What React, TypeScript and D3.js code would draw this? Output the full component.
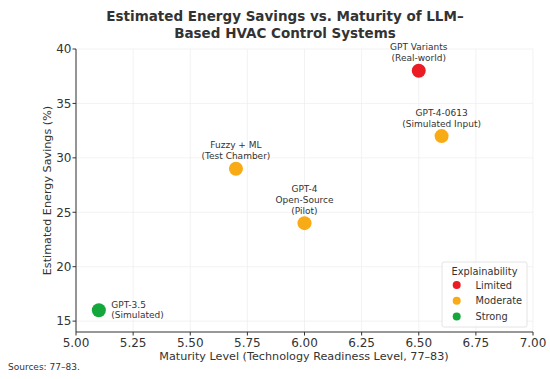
import React from "react";
import * as d3 from "d3";

const names = ["GPT Variants\n(Real-world)", "GPT-4-0613\n(Simulated Input)", "Fuzzy + ML\n(Test Chamber)", "GPT-4\nOpen-Source\n(Pilot)", "GPT-3.5\n(Simulated)"];
const maturity = [6.5, 6.6, 5.7, 6.0, 5.1];
const savings = [38, 32, 29, 24, 16];
const explain = ["Limited", "Moderate", "Moderate", "Moderate", "Strong"];
const levels = ["Limited", "Moderate", "Strong"];
const levelColors = ["#ec1c24", "#f8ab14", "#14a83c"];
const xTicks = [5.0, 5.25, 5.5, 5.75, 6.0, 6.25, 6.5, 6.75, 7.0];
const yTicks = [15, 20, 25, 30, 35, 40];

const W = 550, H = 379;
const font = "DejaVu Sans, sans-serif";
const ink = "#333";

export default function App() {
  const x = d3.scaleLinear().domain([5, 7]).range([76, 533]);
  const y = d3.scaleLinear().domain([14, 40]).range([332, 49]);
  const color = d3.scaleOrdinal<string, string>().domain(levels).range(levelColors);

  return (
    <svg width={W} height={H} style={{ position: "absolute", left: 0, top: 0, background: "#fff" }} fontFamily={font}>
      <text x={285} y={21} textAnchor="middle" fontSize={13.5} fontWeight="bold" fill={ink}>Estimated Energy Savings vs. Maturity of LLM–</text>
      <text x={285} y={38} textAnchor="middle" fontSize={13.5} fontWeight="bold" fill={ink}>Based HVAC Control Systems</text>

      {/* grid */}
      {xTicks.map((t) => (
        <line key={"gx" + t} x1={x(t)} x2={x(t)} y1={y(40)} y2={y(14)} stroke="#ececec" strokeWidth={0.7} />
      ))}
      {yTicks.map((t) => (
        <line key={"gy" + t} x1={x(5)} x2={x(7)} y1={y(t)} y2={y(t)} stroke="#ececec" strokeWidth={0.7} />
      ))}

      {/* axes */}
      <line x1={x(5)} x2={x(5)} y1={y(40)} y2={y(14)} stroke={ink} strokeWidth={1} />
      <line x1={x(5)} x2={x(7)} y1={y(14)} y2={y(14)} stroke={ink} strokeWidth={1} />
      {xTicks.map((t) => (
        <g key={"xt" + t}>
          <line x1={x(t)} x2={x(t)} y1={y(14)} y2={y(14) + 3.5} stroke={ink} />
          <text x={x(t)} y={y(14) + 14.5} textAnchor="middle" fontSize={12} fill={ink}>{d3.format(".2f")(t)}</text>
        </g>
      ))}
      {yTicks.map((t) => (
        <g key={"yt" + t}>
          <line x1={x(5) - 3.5} x2={x(5)} y1={y(t)} y2={y(t)} stroke={ink} />
          <text x={x(5) - 4.5} y={y(t) + 4.3} textAnchor="end" fontSize={12} fill={ink}>{t}</text>
        </g>
      ))}
      <text x={304} y={360} textAnchor="middle" fontSize={11.2} fill={ink}>Maturity Level (Technology Readiness Level, 77–83)</text>
      <text transform={`translate(51,${(y(40) + y(14)) / 2}) rotate(-90)`} textAnchor="middle" fontSize={11.2} fill={ink}>Estimated Energy Savings (%)</text>

      {/* points */}
      {names.map((n, i) => {
        const cx = x(maturity[i]), cy = y(savings[i]);
        const lines = n.split("\n");
        const right = explain[i] === "Strong";
        return (
          <g key={n}>
            <circle cx={cx} cy={cy} r={7} fill={color(explain[i])} />
            {lines.map((l, j) =>
              right ? (
                <text key={j} x={cx + 12.4} y={cy - 2.7 + j * 10.5} fontSize={9} fill={ink}>{l}</text>
              ) : (
                <text key={j} x={cx} y={cy - 9.5 - (lines.length - 1 - j) * 10.8} textAnchor="middle" fontSize={9} fill={ink}>{l}</text>
              )
            )}
          </g>
        );
      })}

      {/* legend */}
      <rect x={442} y={262} width={85} height={65} rx={2} fill="#fff" fillOpacity={0.8} stroke="#ddd" strokeWidth={0.8} />
      <text x={484.5} y={274.5} textAnchor="middle" fontSize={9.8} fill={ink}>Explainability</text>
      {levels.map((lv, i) => (
        <g key={lv}>
          <circle cx={456.7} cy={285 + i * 15.8} r={4} fill={color(lv)} />
          <text x={475.5} y={288.5 + i * 15.8} fontSize={9.8} fill={ink}>{lv}</text>
        </g>
      ))}

      <text x={8} y={370} fontSize={9} fill={ink}>Sources: 77–83.</text>
    </svg>
  );
}
